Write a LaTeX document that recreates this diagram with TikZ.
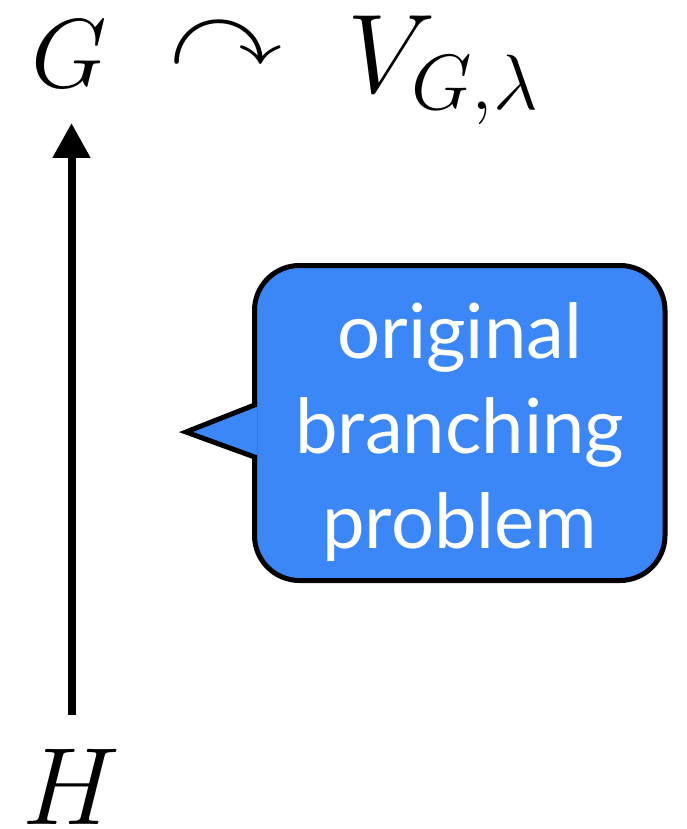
\RequirePackage{fix-cm}
\documentclass[tikz,border=0pt]{standalone}
\usepackage{amsmath,amssymb}
\usepackage{fontspec}
\newfontfamily\callfont{Lato}
\usetikzlibrary{arrows.meta}
\definecolor{calloutblue}{RGB}{60,135,247}
\tikzset{
  mathlabel/.style={anchor=base, inner sep=0pt, outer sep=0pt},
  uparrow/.style={line width=8pt, -{Triangle[width=36pt,length=35pt]}},
  calloutbox/.style={draw=black, line width=5pt, fill=calloutblue, rounded corners=45pt,
     minimum width=410.5pt, minimum height=315pt, inner sep=0pt},
  callouttext/.style={inner sep=0pt, text=white, align=center,
     font=\callfont\fontsize{76}{95}\selectfont},
}
\begin{document}
\begin{tikzpicture}[x=1pt,y=-1pt]
\useasboundingbox (0,0) rectangle (686,829);
\node[mathlabel, font=\fontsize{98}{98}\selectfont] (G) at (69,88) {$G$};
\node[inner sep=0pt, font=\fontsize{118}{118}\selectfont] (act) at (226,44) {\scalebox{0.96}[0.82]{$\curvearrowright$}};
\node[mathlabel, font=\fontsize{112}{112}\selectfont] (V) at (443,93) {$V_{G,\lambda}$};
\node[mathlabel, font=\fontsize{110}{110}\selectfont] (H) at (71.5,824) {$H$};
\draw[uparrow, shorten >=35pt] ([yshift=34pt]H.north) -- (H.north |- G.south);
\node[calloutbox] (cb) at (459.75,423) {};
\node[callouttext] (cbtext) at ([yshift=-9pt]cb.center) {original\\branching\\problem};
\coordinate (tip) at (186,432);
\fill[calloutblue] (257,405) -- (tip) -- (257,457) -- cycle;
\draw[line width=5pt, line join=miter] (254.5,402) -- (254.5,405) -- (tip) -- (254.5,457) -- (254.5,460);
\end{tikzpicture}
\end{document}
